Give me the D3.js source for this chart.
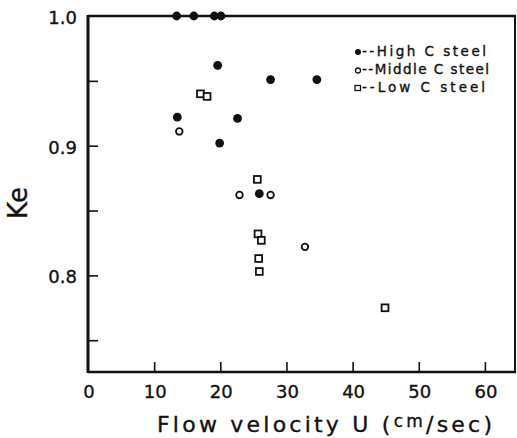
<!DOCTYPE html>
<html>
<head>
<meta charset="utf-8">
<script src="https://cdn.jsdelivr.net/npm/d3@7"></script>
<style>
  html, body { margin: 0; padding: 0; background: #fff; }
  svg text { font-family: "DejaVu Sans", sans-serif; fill: #111; stroke: #111; stroke-width: 0.35; }
</style>
</head>
<body>
<svg id="chart" width="517" height="438"></svg>
<script>
// values: [U (cm/sec), Ke]
const highC = [
  [13.4, 1.0], [16.0, 1.0], [19.1, 1.0], [20.1, 1.0],
  [19.6, 0.962], [27.6, 0.951], [34.6, 0.951],
  [13.5, 0.922], [22.6, 0.921], [19.9, 0.902], [25.9, 0.863]
];
const middleC = [
  [13.8, 0.911], [22.9, 0.862], [27.6, 0.862], [32.8, 0.822]
];
const lowC = [
  [17.0, 0.940], [18.0, 0.938], [25.6, 0.874], [25.7, 0.832],
  [26.2, 0.827], [25.8, 0.813], [25.9, 0.803], [44.9, 0.775]
];
const xTicks = [0, 10, 20, 30, 40, 50, 60];
const yTicks = [0.75, 0.8, 0.85, 0.9, 0.95, 1.0];
const yLabels = [0.8, 0.9, 1.0];
const legendItems = ["--High C steel", "--Middle C steel", "--Low C steel"];

(function () {
const svg = d3.select("#chart");
const pl = 88, pr = 516, pt = 16, pb = 372;

const x = d3.scaleLinear().domain([0, 64.7]).range([pl, pr]);
const y = d3.scaleLinear().domain([0.7255, 1.0]).range([pb, pt]);

// frame
svg.append("line").attr("x1", pl).attr("x2", pl).attr("y1", pt - 1).attr("y2", pb + 1)
  .attr("stroke", "#111").attr("stroke-width", 3);
svg.append("line").attr("x1", pl).attr("x2", pr).attr("y1", pb).attr("y2", pb)
  .attr("stroke", "#111").attr("stroke-width", 2.5);
svg.append("line").attr("x1", pl).attr("x2", pr).attr("y1", pt).attr("y2", pt)
  .attr("stroke", "#111").attr("stroke-width", 2.5);
svg.append("line").attr("x1", pr - 1).attr("x2", pr - 1).attr("y1", pt).attr("y2", pb)
  .attr("stroke", "#111").attr("stroke-width", 2);

// inward ticks
const yAxis = d3.axisRight(y).tickValues(yTicks.filter(v => v < 1)).tickSize(10).tickFormat("");
svg.append("g").attr("transform", `translate(${pl},0)`).call(yAxis)
  .call(g => g.select(".domain").remove())
  .call(g => g.selectAll("line").attr("stroke", "#111").attr("stroke-width", 1.6));

const xAxis = d3.axisTop(x).tickValues(xTicks.filter(v => v > 0)).tickSize(10).tickFormat("");
svg.append("g").attr("transform", `translate(0,${pb})`).call(xAxis)
  .call(g => g.select(".domain").remove())
  .call(g => g.selectAll("line").attr("stroke", "#111").attr("stroke-width", 1.6));

// tick labels
svg.selectAll(".ylab").data(yLabels).join("text")
  .attr("class", "ylab")
  .attr("x", pl - 11)
  .attr("y", d => y(d) + 8)
  .attr("text-anchor", "end")
  .attr("font-size", 18)
  .text(d => d3.format(".1f")(d));

svg.selectAll(".xlab").data(xTicks).join("text")
  .attr("class", "xlab")
  .attr("x", d => x(d) + 1)
  .attr("y", 398)
  .attr("text-anchor", "middle")
  .attr("font-size", 18)
  .text(d => d);

// axis titles
const title = svg.append("text").attr("x", 157).attr("y", 432).attr("font-size", 22)
  .attr("textLength", 335).attr("lengthAdjust", "spacing");
title.append("tspan").text("Flow velocity U (");
title.append("tspan").attr("font-size", 17).attr("dy", -5).text("cm");
title.append("tspan").attr("font-size", 22).attr("dy", 5).text("\u2215sec)");

svg.append("text")
  .attr("transform", "translate(27,203) rotate(-90)")
  .attr("text-anchor", "middle")
  .attr("font-size", 26)
  .text("Ke");

// points
const plot = svg.append("g");
plot.selectAll(".high").data(highC).join("circle")
  .attr("class", "high")
  .attr("cx", d => x(d[0])).attr("cy", d => y(d[1]))
  .attr("r", 4.4).attr("fill", "#111");

plot.selectAll(".mid").data(middleC).join("circle")
  .attr("class", "mid")
  .attr("cx", d => x(d[0])).attr("cy", d => y(d[1]))
  .attr("r", 3.3).attr("fill", "#fff").attr("stroke", "#111").attr("stroke-width", 1.8);

plot.selectAll(".low").data(lowC).join("rect")
  .attr("class", "low")
  .attr("x", d => x(d[0]) - 3.4).attr("y", d => y(d[1]) - 3.4)
  .attr("width", 6.8).attr("height", 6.8)
  .attr("fill", "#fff").attr("stroke", "#111").attr("stroke-width", 1.8);

// legend
const leg = svg.append("g");
const legY = [56, 74, 92];
const legW = [124, 127, 123];
leg.append("circle").attr("cx", 358).attr("cy", legY[0] - 4).attr("r", 3).attr("fill", "#111");
leg.append("circle").attr("cx", 358).attr("cy", legY[1] - 3.5).attr("r", 2.5)
  .attr("fill", "none").attr("stroke", "#111").attr("stroke-width", 1.3);
leg.append("rect").attr("x", 355).attr("y", legY[2] - 6.5).attr("width", 5.5).attr("height", 5)
  .attr("fill", "none").attr("stroke", "#111").attr("stroke-width", 1.3);
leg.selectAll(".legtxt").data(legendItems).join("text")
  .attr("class", "legtxt")
  .attr("x", 362)
  .attr("y", (d, i) => legY[i])
  .attr("font-size", 13.5)
  .attr("textLength", (d, i) => legW[i])
  .attr("lengthAdjust", "spacing")
  .text(d => d);
})();
</script>
</body>
</html>
